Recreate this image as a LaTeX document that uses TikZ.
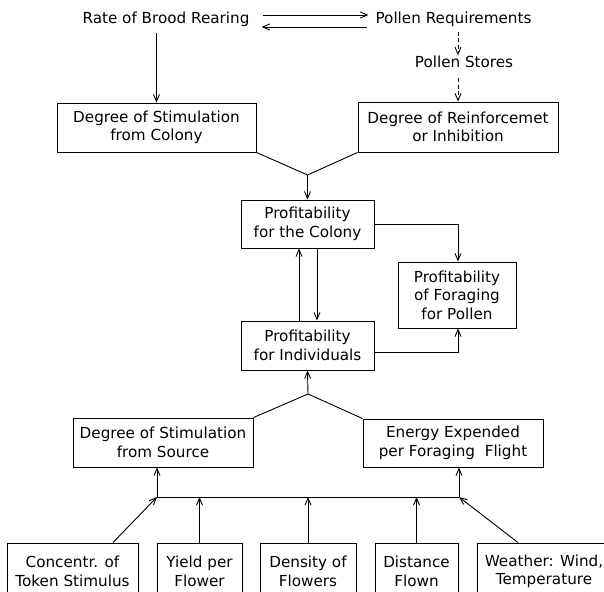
\documentclass[tikz,border=0pt]{standalone}
\usepackage{fontspec}
\newfontfamily\lab{DejaVu Sans}
\usetikzlibrary{arrows.meta}
\tikzset{
  txt/.style={font=\lab\fontsize{15.2}{18.5}\selectfont},
  lbl/.style={txt, inner sep=1pt},
  box/.style={txt, draw, line width=0.9pt, align=center, inner sep=0pt},
  ln/.style={line width=0.9pt},
  arr/.style={ln, -{Straight Barb[length=7pt,width=6pt,line width=0.9pt]}},
  dsh/.style={dash pattern=on 4pt off 2.5pt}
}
\begin{document}
\begin{tikzpicture}[x=1pt,y=-1pt]
\fill[white] (0,0) rectangle (604,591);
\useasboundingbox (0,0) rectangle (604,591);
\clip (0,0) rectangle (604,591);
% top labels
\node[lbl, anchor=base] (rate) at (166,24) {Rate of Brood Rearing};
\node[lbl, anchor=base] (preq) at (453.5,24) {Pollen Requirements};
\node[lbl, anchor=base] (pstores) at (464,68) {Pollen Stores};
% boxes
\node[box, minimum width=199pt, minimum height=49pt] (sdc) at (156.5,127.5) {Degree of Stimulation\\from Colony};
\node[box, minimum width=200pt, minimum height=50pt] (rdeg) at (458,127) {Degree of Reinforcemet\\or Inhibition};
\node[box, minimum width=133pt, minimum height=48pt] (colony) at (307.5,224) {Profitability\\for the Colony};
\node[box, minimum width=118pt, minimum height=66pt] (pollen) at (457,295) {Profitability\\of Foraging\\for Pollen};
\node[box, minimum width=133pt, minimum height=49pt] (indiv) at (307.5,345.5) {Profitability\\for Individuals};
\node[box, minimum width=180pt, minimum height=49pt] (source) at (163,442.5) {Degree of Stimulation\\from Source};
\node[box, minimum width=180pt, minimum height=48pt] (energy) at (453,443) {Energy Expended\\per Foraging\ \ Flight};
% bottom boxes
\node[box, minimum width=131pt, minimum height=57pt] (concentr) at (72.5,571.5) {Concentr. of\\Token Stimulus};
\node[box, minimum width=85pt, minimum height=57pt] (yield) at (199.5,571.5) {Yield per\\Flower};
\node[box, minimum width=96pt, minimum height=57pt] (density) at (308,571.5) {Density of\\Flowers};
\node[box, minimum width=83pt, minimum height=57pt] (distance) at (416.5,571.5) {Distance\\Flown};
\node[box, minimum width=134pt, minimum height=57pt] (weather) at (544,571.5) {Weather: Wind,\\Temperature};
% junction coordinates
\coordinate (j1) at (307.5,175);
\coordinate (j2) at (308,394);
\coordinate (b1) at (157,497);
\coordinate (b2) at (459,497);
% top connectors
\draw[arr] ([xshift=12pt,yshift=9pt]rate.base east) -- ([xshift=-6pt,yshift=9pt]preq.base west);
\draw[arr] ([xshift=-7pt,yshift=-3pt]preq.base west) -- ([xshift=11pt,yshift=-3pt]rate.base east);
\draw[arr, shorten <=4.5pt] (rate.south -| sdc.north) -- (sdc.north);
\draw[arr, dsh, shorten <=3.5pt] (preq.south -| rdeg.north) -- (pstores.north -| rdeg.north);
\draw[arr, dsh, shorten <=9pt] (pstores.south -| rdeg.north) -- (rdeg.north);
% to colony
\draw[ln] (sdc.south east) -- (j1) -- (rdeg.south west);
\draw[arr] (j1) -- (colony.north);
% colony <-> individuals
\draw[arr] ([xshift=-8.5pt]indiv.north) -- ([xshift=-8.5pt]colony.south);
\draw[arr] ([xshift=9.5pt]colony.south) -- ([xshift=9.5pt]indiv.north);
% to pollen box
\draw[arr] (colony.east) -| ([xshift=1pt]pollen.north);
\draw[arr] ([yshift=-6.5pt]indiv.east) -| ([xshift=1pt]pollen.south);
% to individuals
\draw[ln] (source.north east) -- (j2) -- (energy.north west);
\draw[arr] (j2) -- (indiv.south);
% bus
\draw[ln] (b1) -- (b2);
\draw[arr] (b1) -- (b1 |- source.south);
\draw[arr] (b2) -- (b2 |- energy.south);
\draw[arr] ([xshift=40.5pt]concentr.north) -- (b1);
\draw[arr] (yield.north) -- (yield.north |- b1);
\draw[arr] (density.north) -- (density.north |- b1);
\draw[arr] (distance.north) -- (distance.north |- b1);
\draw[arr] ([xshift=-26pt]weather.north) -- (b2);
\end{tikzpicture}
\end{document}
